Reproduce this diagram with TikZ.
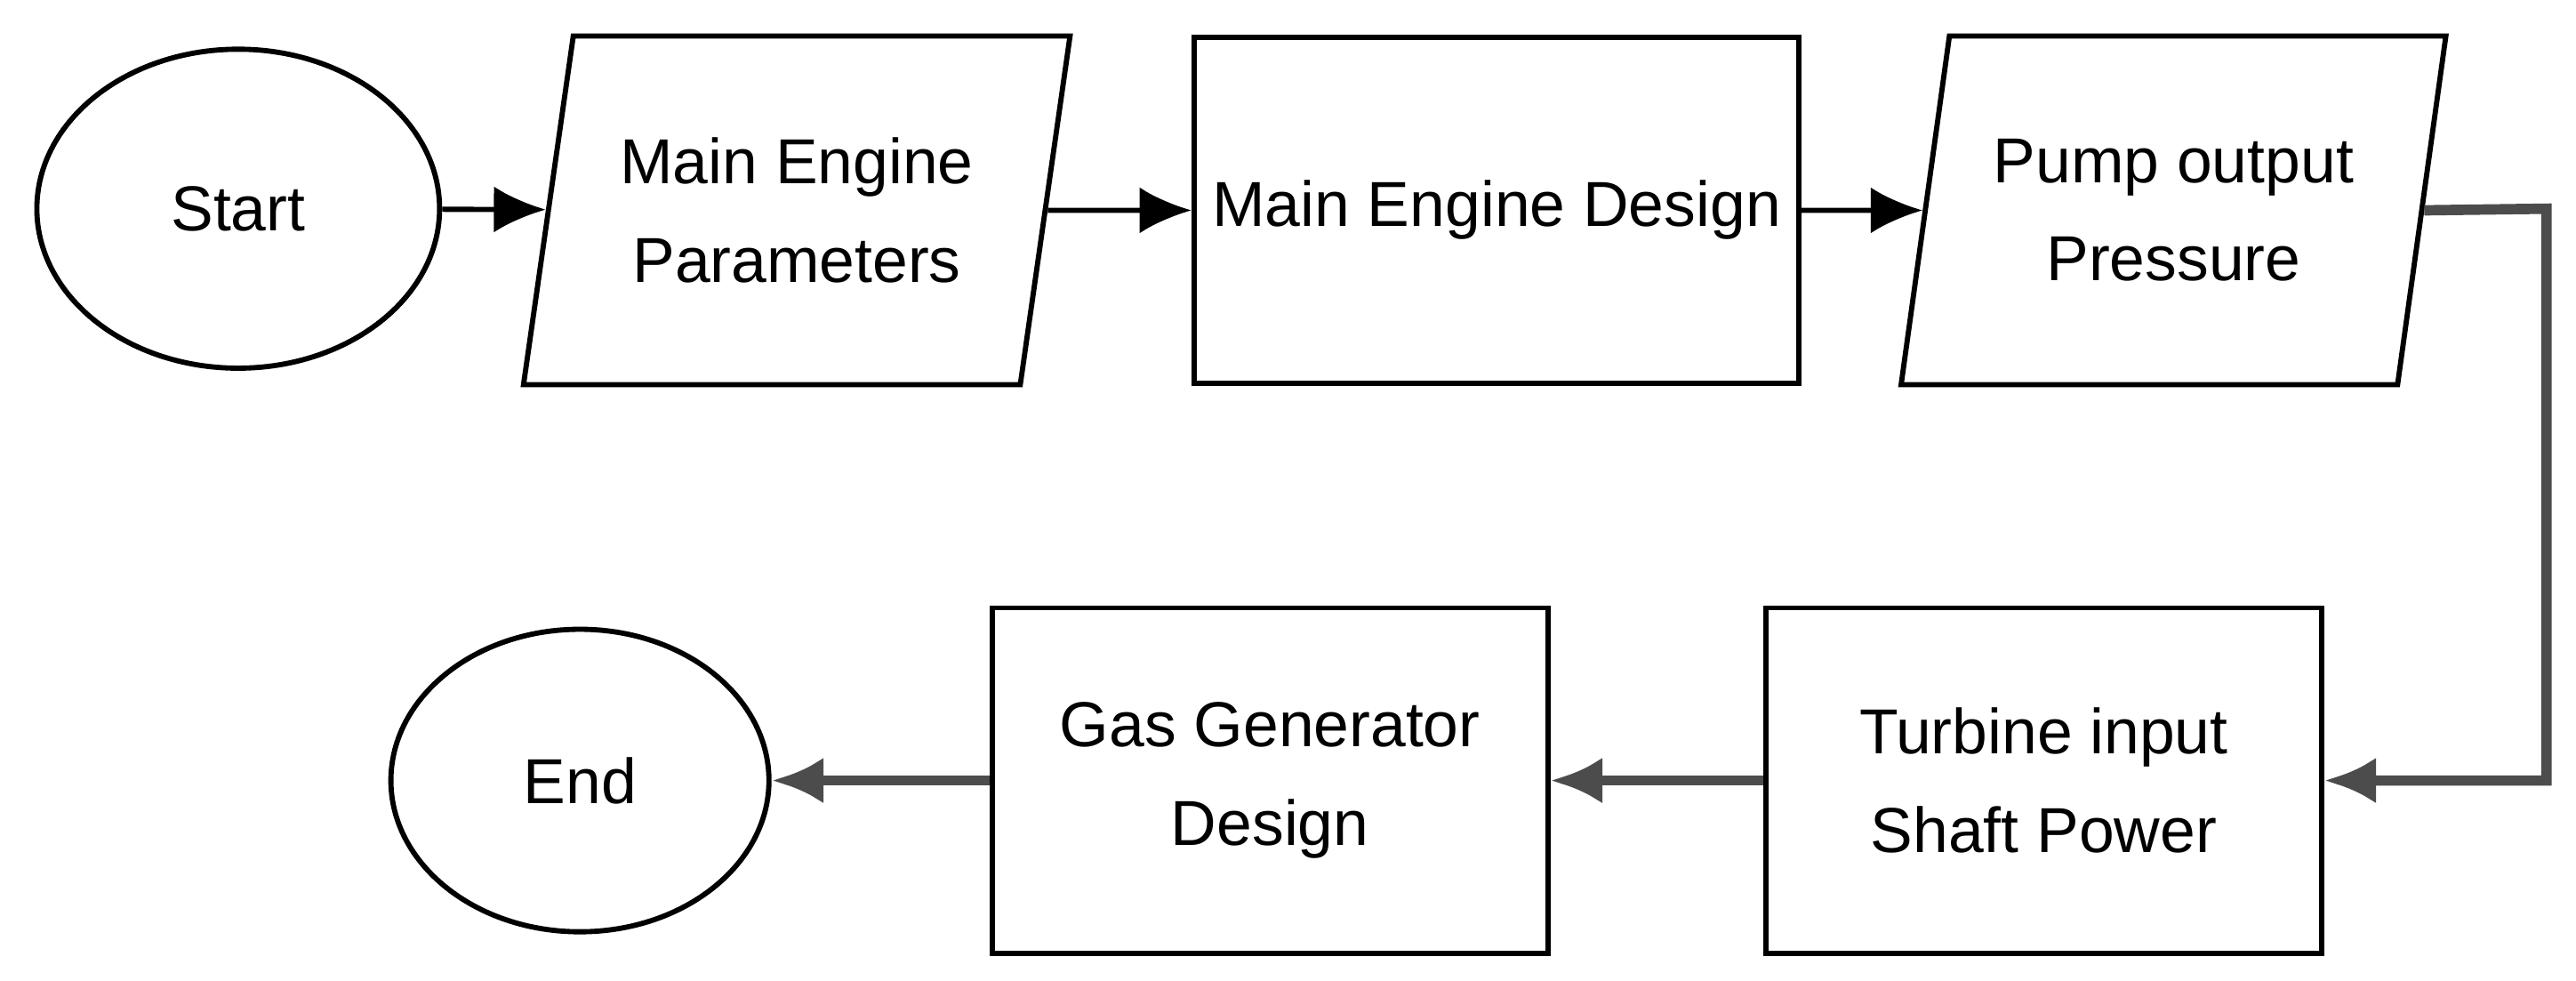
\documentclass[tikz,border=0pt]{standalone}
\usepackage{fontspec}
\setmainfont{Liberation Sans}
\usetikzlibrary{shapes.geometric,arrows.meta}
\begin{document}
\begin{tikzpicture}[x=0.01cm,y=-0.01cm,
  base/.style={draw, line width=0.9pt, align=center, inner sep=2pt,
     font=\fontsize{11}{17}\selectfont},
  term/.style={base, ellipse, minimum width=2.45cm, minimum height=1.94cm},
  io/.style={base, trapezium, trapezium left angle=76, trapezium right angle=104,
     trapezium stretches=true, minimum width=3.34cm, minimum height=2.12cm},
  proc/.style={base, rectangle, minimum width=3.38cm, minimum height=2.1cm},
  flow/.style={draw, line width=0.9pt, -{Latex[length=9pt,width=8pt]}},
  flowb/.style={draw, line width=1.8pt, color=black!70, -{Latex[length=9pt,width=8pt]}}]
\useasboundingbox (0,0) rectangle (1568,597);
\node[term] (start) at (145,127) {Start};
\node[io] (p1) at (485,128) {Main Engine\\Parameters};
\node[proc, minimum width=3.68cm] (med) at (911,128) {Main Engine Design};
\node[io] (p2) at (1323,128) {Pump output\\Pressure};
\node[proc] (tur) at (1244,475) {Turbine input\\Shaft Power};
\node[proc] (gas) at (773,475) {Gas Generator\\Design};
\node[term, minimum width=2.3cm, minimum height=1.84cm] (end) at (353,475) {End};
\coordinate (c1) at (1550,127);
\coordinate (c2) at (1550,475);
\draw[flow] (start) -- (p1);
\draw[flow] (p1) -- (med);
\draw[flow] (med) -- (p2);
\draw[flowb] (p2.east) -- (c1) -- (c2) -- (tur);
\draw[flowb] (tur) -- (gas);
\draw[flowb] (gas) -- (end);
\end{tikzpicture}
\end{document}
